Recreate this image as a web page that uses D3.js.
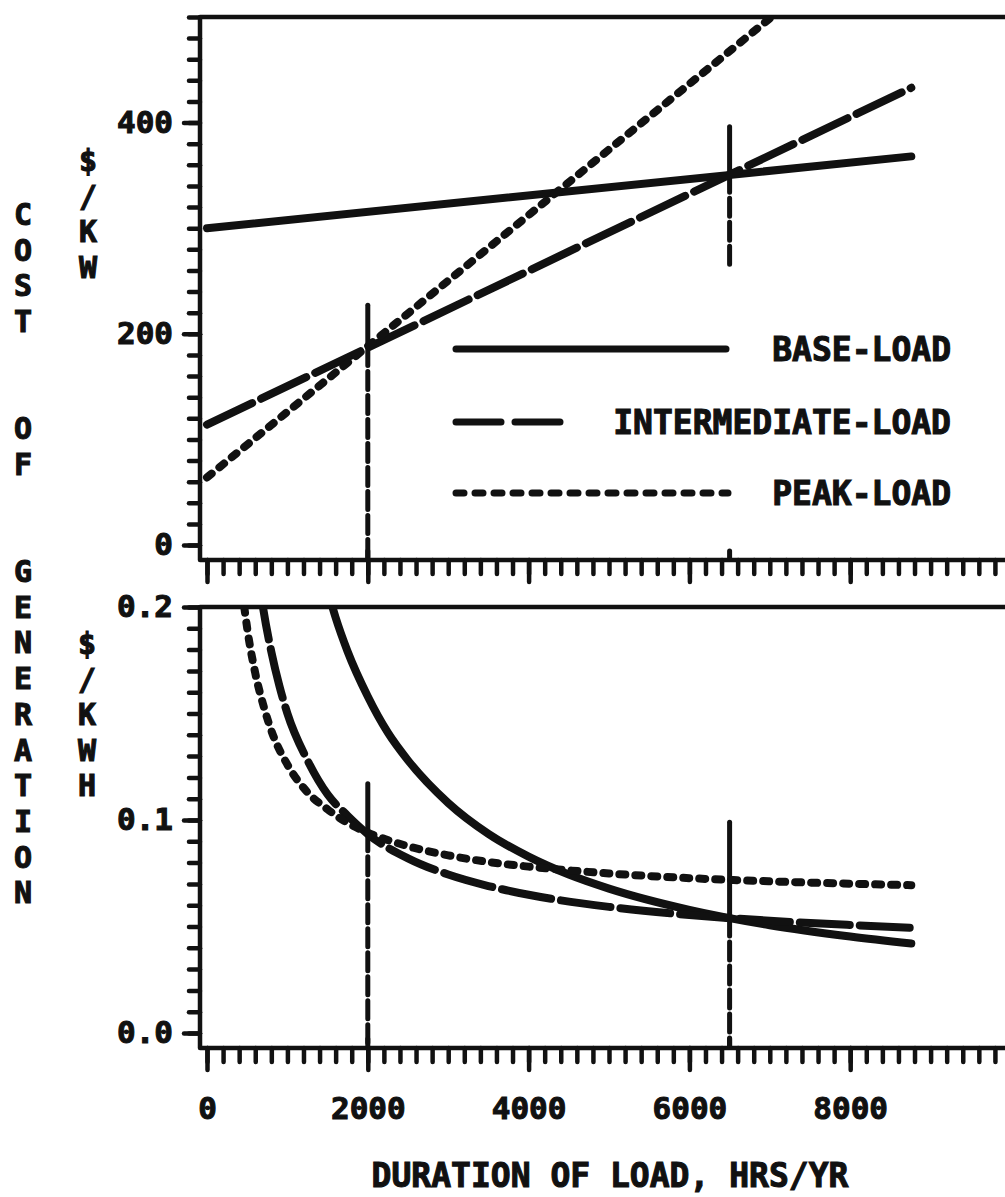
<!DOCTYPE html>
<html>
<head>
<meta charset="utf-8">
<script src="https://cdn.jsdelivr.net/npm/d3@7"></script>
<style>
  html, body { margin: 0; padding: 0; background: #fff; }
  svg { display: block; }
  text { font-family: "DejaVu Sans Mono", "Liberation Mono", monospace; font-weight: bold; fill: #111; stroke: #111; stroke-width: 1.1; }
</style>
</head>
<body>
<svg id="chart" width="1005" height="1197"></svg>
<script>
// ---- data ----
const seriesNames = ["BASE-LOAD", "INTERMEDIATE-LOAD", "PEAK-LOAD"];

// annual cost per kW of capacity, $/KW, against hours of operation
const kwHours = [0, 8760];
const kwBase = [300, 368];
const kwIntermediate = [114, 433];
const kwPeak = [64, 608];

// cost per kWh generated, $/KWH
const kwhHoursBase = [1400, 1500, 1600, 1750, 2000, 2250, 2500, 3000, 3500, 4000, 4500, 5000, 6000, 7000, 8000, 8760];
const kwhBase = [0.222, 0.208, 0.195, 0.179, 0.158, 0.141, 0.128, 0.108, 0.0935, 0.0828, 0.0744, 0.0678, 0.0578, 0.0506, 0.0453, 0.0420];
const kwhHoursIntermediate = [500, 600, 700, 800, 900, 1000, 1250, 1500, 1750, 2000, 2500, 3000, 3500, 4000, 5000, 6000, 7000, 8000, 8760];
const kwhIntermediate = [0.264, 0.226, 0.199, 0.179, 0.163, 0.150, 0.128, 0.112, 0.102, 0.0934, 0.0820, 0.0744, 0.0690, 0.0649, 0.0592, 0.0554, 0.0527, 0.0507, 0.0494];
const kwhHoursPeak = [300, 400, 500, 600, 700, 800, 1000, 1250, 1500, 1750, 2000, 2500, 3000, 3500, 4000, 5000, 6000, 7000, 8000, 8760];
const kwhPeak = [0.275, 0.222, 0.190, 0.169, 0.154, 0.142, 0.126, 0.113, 0.105, 0.0986, 0.0941, 0.0877, 0.0834, 0.0803, 0.0781, 0.0749, 0.0727, 0.0712, 0.0701, 0.0694];

// break-even markers: hours, upper end, crossing, lower end
const markerHours = [2000, 6500];
const markerKwTop = [227, 396];
const markerKwCross = [187, 351];
const markerKwBottom = [-15, 263];
const markerKwhTop = [0.117, 0.099];
const markerKwhCross = [0.094, 0.054];
const markerKwhBottom = [-0.007, -0.007];

// axis ticks and labels
const hourMajorTicks = [0, 2000, 4000, 6000, 8000];
const hourTickLabels = ["0", "2000", "4000", "6000", "8000"];
const kwMajorTicks = [0, 200, 400];
const kwTickLabels = ["0", "200", "400"];
const kwhMajorTicks = [0, 0.1, 0.2];
const kwhTickLabels = ["0.0", "0.1", "0.2"];

const yTitle = "COST  OF  GENERATION";
const kwUnit = "$/KW";
const kwhUnit = "$/KWH";
const xTitle = "DURATION OF LOAD, HRS/YR";

// ---- layout ----
const ink = "#111";
const svg = d3.select("#chart");
svg.append("rect").attr("width", 1005).attr("height", 1197).attr("fill", "#fff");

const x = d3.scaleLinear().domain([0, 10000]).range([207, 1011]);
const frameLeft = 200, frameRight = 1022;

const panels = [
  { id: "kw", y: d3.scaleLinear().domain([0, 500]).range([545, 17]),
    top: 17, bottom: 560, minorStep: 20, majors: kwMajorTicks, labels: kwTickLabels,
    lines: [
      { name: seriesNames[0], xs: kwHours, ys: kwBase },
      { name: seriesNames[1], xs: kwHours, ys: kwIntermediate },
      { name: seriesNames[2], xs: kwHours, ys: kwPeak }
    ],
    mTop: markerKwTop, mCross: markerKwCross, mBottom: markerKwBottom },
  { id: "kwh", y: d3.scaleLinear().domain([0, 0.2]).range([1033, 607]),
    top: 607, bottom: 1048, minorStep: 0.01, majors: kwhMajorTicks, labels: kwhTickLabels,
    lines: [
      { name: seriesNames[0], xs: kwhHoursBase, ys: kwhBase },
      { name: seriesNames[1], xs: kwhHoursIntermediate, ys: kwhIntermediate },
      { name: seriesNames[2], xs: kwhHoursPeak, ys: kwhPeak }
    ],
    mTop: markerKwhTop, mCross: markerKwhCross, mBottom: markerKwhBottom }
];

// pen styles for each load type (chart strokes and legend strokes)
const penStyle = {
  "BASE-LOAD": { dash: null, legendDash: null, width: 8 },
  "INTERMEDIATE-LOAD": { dash: "50,10", legendDash: "45,14", width: 8 },
  "PEAK-LOAD": { dash: "6,10", legendDash: "8,11", width: 8 }
};

panels.forEach((p, pi) => {
  const g = svg.append("g");
  const clipId = "clip-" + p.id;
  svg.append("clipPath").attr("id", clipId)
    .append("rect").attr("x", frameLeft).attr("y", p.top)
    .attr("width", frameRight - frameLeft).attr("height", p.bottom - p.top);

  // y axis: minor and major ticks pointing out of the frame
  const yMinor = d3.range(0, p.y.domain()[1] + p.minorStep / 2, p.minorStep);
  const axMinor = g.append("g").attr("transform", `translate(${frameLeft},0)`)
    .call(d3.axisLeft(p.y).tickValues(yMinor).tickSize(11).tickFormat(""));
  const axMajor = g.append("g").attr("transform", `translate(${frameLeft},0)`)
    .call(d3.axisLeft(p.y).tickValues(p.majors).tickSize(16).tickPadding(11)
      .tickFormat((d, i) => p.labels[i]));
  [axMinor, axMajor].forEach(a => {
    a.select(".domain").remove();
    a.selectAll("line").attr("stroke", ink).attr("stroke-width", 4.5).attr("stroke-linecap", "round");
  });
  axMajor.selectAll("text").attr("font-size", 31).attr("fill", ink)
    .attr("font-family", "DejaVu Sans Mono").attr("font-weight", "bold");

  // x axis: ticks hanging below the frame
  const xMinor = d3.range(0, 10001, 200);
  const bxMinor = g.append("g").attr("transform", `translate(0,${p.bottom})`)
    .call(d3.axisBottom(x).tickValues(xMinor).tickSize(14).tickFormat(""));
  const bxMajor = g.append("g").attr("transform", `translate(0,${p.bottom})`)
    .call(d3.axisBottom(x).tickValues(hourMajorTicks).tickSize(22).tickPadding(27)
      .tickFormat((d, i) => pi === 1 ? hourTickLabels[i] : ""));
  [bxMinor, bxMajor].forEach(a => {
    a.select(".domain").remove();
    a.selectAll("line").attr("stroke", ink).attr("stroke-width", 4.5).attr("stroke-linecap", "round");
  });
  bxMajor.selectAll("text").attr("font-size", 31).attr("fill", ink)
    .attr("font-family", "DejaVu Sans Mono").attr("font-weight", "bold");

  // frame (open on the right, past the edge of the sheet)
  g.append("path")
    .attr("d", `M${frameRight},${p.top}H${frameLeft}V${p.bottom}H${frameRight}`)
    .attr("fill", "none").attr("stroke", ink).attr("stroke-width", 4.5)
    .attr("stroke-linejoin", "round");

  const plot = g.append("g").attr("clip-path", `url(#${clipId})`);

  // break-even markers
  markerHours.forEach((h, i) => {
    plot.append("line")
      .attr("x1", x(h)).attr("x2", x(h))
      .attr("y1", p.y(p.mTop[i])).attr("y2", p.y(p.mCross[i]))
      .attr("stroke", ink).attr("stroke-width", 5).attr("stroke-linecap", "round");
    plot.append("line")
      .attr("x1", x(h)).attr("x2", x(h))
      .attr("y1", p.y(p.mCross[i])).attr("y2", Math.min(p.y(p.mBottom[i]), p.bottom))
      .attr("stroke", ink).attr("stroke-width", 5).attr("stroke-linecap", "round")
      .attr("stroke-dasharray", "18,6");
    // small foot on the axis
    plot.append("line")
      .attr("x1", x(h)).attr("x2", x(h))
      .attr("y1", p.bottom - 9).attr("y2", p.bottom)
      .attr("stroke", ink).attr("stroke-width", 5).attr("stroke-linecap", "round");
  });

  // cost curves
  const lineGen = d3.line().x(d => x(d[0])).y(d => p.y(d[1])).curve(d3.curveMonotoneX);
  p.lines.forEach(s => {
    const pts = s.xs.map((h, i) => [h, s.ys[i]]);
    const st = penStyle[s.name];
    plot.append("path").datum(pts)
      .attr("d", lineGen)
      .attr("fill", "none").attr("stroke", ink)
      .attr("stroke-width", st.width)
      .attr("stroke-linecap", "round").attr("stroke-linejoin", "round")
      .attr("stroke-dasharray", st.dash);
  });
});

// legend in the upper panel
const legendRows = [349, 422, 493];
const legendLineEnd = [726, 564, 728];
const legend = svg.append("g");
seriesNames.forEach((name, i) => {
  const st = penStyle[name];
  legend.append("line")
    .attr("x1", 456).attr("x2", legendLineEnd[i])
    .attr("y1", legendRows[i]).attr("y2", legendRows[i])
    .attr("stroke", ink).attr("stroke-width", st.width - 1)
    .attr("stroke-linecap", "round").attr("stroke-dasharray", st.legendDash);
  legend.append("text")
    .attr("x", 951).attr("y", legendRows[i])
    .attr("text-anchor", "end").attr("dominant-baseline", "central")
    .attr("font-size", 33)
    .text(name);
});

// stacked vertical titles
function stacked(str, cx, topY, pitch, size) {
  const gg = svg.append("g");
  str.split("").forEach((ch, i) => {
    if (ch === " ") return;
    gg.append("text")
      .attr("x", cx).attr("y", topY + i * pitch + 22)
      .attr("text-anchor", "middle").attr("font-size", size)
      .text(ch);
  });
}
stacked(yTitle, 23, 203, 35.7, 30);
stacked(kwUnit, 88, 149, 35.5, 30);
stacked(kwhUnit, 87, 632, 35.5, 30);

// x title
svg.append("text")
  .attr("x", 610).attr("y", 1187)
  .attr("text-anchor", "middle").attr("font-size", 33)
  .text(xTitle);
</script>
</body>
</html>
